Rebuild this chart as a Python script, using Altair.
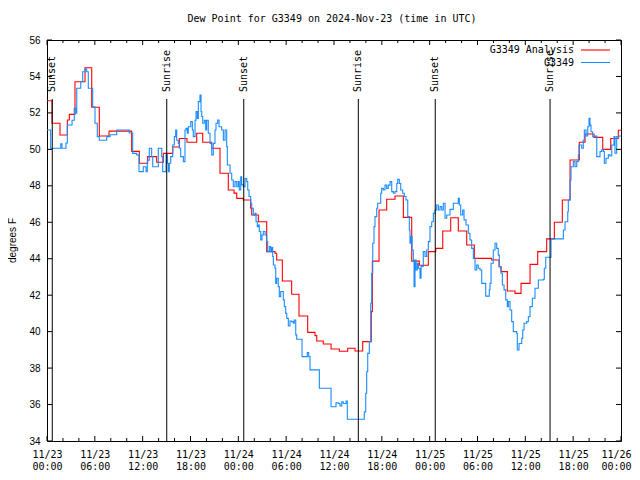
import altair as alt
import pandas as pd

# ---------------- data (hours since 2024-11-23 00:00 UTC, degrees F) -------------
blue_t = [0.00, 0.46, 1.72, 1.88, 2.38, 2.55, 3.14, 3.42, 3.64, 3.73, 4.23, 4.48, 4.77, 4.98,
          5.18, 5.73, 6.02, 6.31, 6.56, 7.49, 7.90, 8.74, 10.32, 10.75, 11.25, 11.54, 12.08,
          12.42, 12.58, 12.83, 13.13, 13.26, 13.96, 14.39, 14.51, 14.93, 15.09, 15.22, 15.34,
          15.52, 15.77, 15.97, 16.14, 16.27, 16.47, 16.60, 16.77, 17.10, 17.31, 17.44, 17.60,
          17.72, 18.03, 18.23, 18.35, 18.57, 18.69, 18.85, 18.98, 19.19, 19.32, 19.41, 19.53,
          19.73, 19.91, 20.03, 20.23, 20.45, 20.66, 20.86, 21.07, 21.20, 21.41, 21.58, 21.91,
          22.12, 22.33, 22.54, 22.62, 22.96, 23.17, 23.37, 23.58, 23.80, 24.00, 24.12, 24.30,
          24.42, 24.62, 24.84, 25.05, 25.18, 25.34, 25.55, 25.68, 25.88, 26.09, 26.22, 26.38,
          26.51, 26.63, 26.81, 26.97, 27.13, 27.35, 27.56, 27.68, 27.89, 28.06, 28.19, 28.31,
          28.39, 28.60, 28.69, 28.81, 29.01, 29.14, 29.32, 29.64, 29.77, 29.94, 30.07, 30.27,
          30.48, 30.69, 30.90, 31.02, 31.20, 31.32, 31.99, 32.65, 32.83, 32.99, 34.16, 35.63,
          36.25, 36.54, 36.75, 36.97, 37.17, 37.51, 37.67, 39.80, 39.98, 40.10, 40.23, 40.43,
          40.61, 40.73, 40.86, 41.02, 41.14, 41.36, 41.48, 41.86, 41.98, 42.19, 42.40, 42.61,
          42.81, 43.03, 43.24, 43.44, 43.65, 43.87, 43.99, 44.19, 44.37, 44.62, 44.82, 45.03,
          45.25, 45.45, 45.53, 45.66, 45.79, 45.95, 46.04, 46.16, 46.29, 46.45, 46.58, 46.79,
          46.92, 47.20, 47.42, 47.63, 47.83, 48.04, 48.26, 48.46, 48.67, 48.88, 49.09, 49.30,
          49.51, 49.71, 49.93, 50.14, 50.55, 50.97, 51.59, 51.72, 51.89, 52.14, 52.31, 52.56,
          52.85, 53.06, 53.27, 53.48, 53.69, 53.90, 54.10, 54.32, 54.53, 55.03, 55.48, 55.57,
          55.70, 55.98, 56.20, 56.41, 56.61, 56.74, 56.95, 57.12, 57.33, 57.54, 57.74, 57.87,
          58.08, 58.29, 58.49, 58.92, 58.99, 59.21, 59.55, 59.67, 59.84, 60.17, 60.38, 60.59,
          60.88, 61.21, 61.63, 62.26, 62.38, 62.56, 63.22, 64.77, 64.98, 65.32, 65.39, 65.61,
          65.73, 66.02, 66.23, 66.45, 66.65, 66.73, 67.07, 67.27, 67.40, 67.61, 67.83, 67.99,
          68.11, 68.24, 68.45, 68.74, 68.96, 69.37, 69.58, 69.78, 69.91, 70.12, 70.41, 70.62,
          70.84, 71.12, 71.25, 71.46, 71.75, 72.00]
blue_v = [51.06, 50.06, 50.30, 50.06, 50.35, 51.34, 51.60, 52.25, 51.98, 53.35, 53.71, 54.26, 54.40, 54.26,
          53.35, 52.34, 51.43, 50.70, 50.50, 50.70, 50.80, 51.06, 50.90, 49.78, 49.70, 48.78, 49.05,
          48.78, 49.40, 50.06, 49.60, 49.05, 50.06, 49.60, 48.78, 49.70, 49.24, 48.78, 49.24,
          49.60, 50.24, 50.70, 51.06, 50.50, 50.33, 50.06, 49.60, 49.33, 51.06, 51.15, 50.88,
          51.24, 51.52, 51.06, 50.70, 51.60, 52.07, 51.70, 52.62, 52.98, 52.07, 51.80, 51.43,
          51.60, 51.06, 51.60, 50.88, 50.33, 49.70, 50.33, 51.06, 51.43, 51.61, 51.24, 51.06,
          50.50, 51.06, 50.15, 49.14, 48.69, 48.32, 47.95, 48.23, 47.95, 48.23, 47.77, 48.50,
          48.05, 47.95, 48.40, 48.23, 47.77, 47.41, 47.04, 46.77, 46.40, 46.49, 46.03, 45.76,
          45.85, 45.49, 45.03, 45.30, 45.49, 45.30, 44.94, 44.39, 44.67, 44.39, 44.62, 44.12,
          43.66, 43.48, 42.65, 42.93, 42.47, 41.92, 42.20, 41.74, 41.37, 41.00, 40.73, 40.31,
          40.58, 40.55, 40.46, 40.64, 39.82, 39.58, 38.63, 38.85, 38.63, 37.90, 36.89, 35.88,
          36.10, 36.06, 35.92, 36.15, 36.06, 36.19, 35.19, 35.60, 36.62, 37.80, 38.81, 39.45,
          41.56, 43.20, 44.85, 45.76, 46.31, 46.77, 47.04, 47.59, 47.86, 47.77, 48.04, 47.86,
          48.04, 48.23, 47.68, 47.59, 47.68, 48.13, 48.36, 48.13, 47.77, 47.59, 47.41, 47.22,
          46.31, 45.58, 44.85, 45.21, 44.48, 43.93, 42.47, 43.93, 43.38, 43.75, 43.48, 42.93,
          43.57, 44.39, 44.12, 44.48, 44.94, 45.76, 46.03, 46.49, 46.67, 46.95, 46.67, 46.86,
          46.67, 47.04, 46.22, 46.40, 46.71, 47.04, 47.31, 46.95, 46.40, 46.67, 46.13, 45.85,
          45.40, 45.03, 44.57, 44.02, 43.38, 43.66, 43.48, 43.38, 42.65, 41.95, 42.30, 42.65,
          43.75, 44.48, 44.85, 44.57, 44.20, 43.56, 43.20, 42.56, 42.29, 41.74, 41.37, 41.65,
          41.19, 40.55, 40.00, 39.90, 38.99, 39.35, 39.63, 40.09, 40.46, 40.55, 40.82, 41.37,
          41.83, 42.38, 42.83, 42.87, 43.48, 44.08, 45.09, 45.58, 46.03, 46.58, 47.22, 48.32,
          49.05, 49.33, 49.05, 49.33, 49.70, 50.24, 50.06, 50.50, 51.06, 50.73, 51.24, 51.70,
          51.33, 50.97, 50.70, 50.73, 49.60, 49.88, 49.97, 49.88, 49.24, 49.51, 49.70, 49.64,
          50.24, 50.70, 49.79, 50.70, 50.73, 50.73]

red_t = [0.00, 0.63, 1.63, 2.55, 2.80, 3.51, 4.77, 5.61, 6.56, 7.78, 10.62, 11.58, 12.63, 13.76,
         14.59, 15.77, 16.60, 17.56, 18.78, 19.53, 20.66, 21.70, 22.74, 23.46, 23.80, 24.62,
         25.55, 25.68, 26.51, 27.56, 28.60, 28.81, 29.52, 30.69, 31.61, 32.70, 33.62, 33.83,
         34.66, 35.63, 36.67, 37.72, 38.64, 39.60, 40.68, 40.81, 41.65, 42.61, 43.65, 44.70,
         45.75, 46.70, 47.83, 48.76, 49.64, 50.64, 51.59, 52.65, 53.60, 55.78, 56.70, 56.95,
         57.74, 58.71, 59.46, 60.59, 61.55, 62.68, 63.64, 64.64, 65.61, 66.77, 67.49, 68.62,
         69.71, 70.71, 71.66, 72.00]
red_v = [52.67, 51.43, 50.79, 51.61, 51.92, 53.71, 54.48, 52.31, 50.73, 51.00, 49.89, 49.24, 49.60, 49.29,
         49.78, 50.13, 50.60, 50.39, 50.88, 50.39, 50.06, 48.69, 47.77, 47.60, 47.31, 47.22,
         46.77, 46.40, 46.03, 44.39, 44.30, 43.93, 42.78, 42.05, 40.86, 39.96, 39.78, 39.49,
         39.32, 39.05, 38.92, 39.09, 38.94, 39.45, 41.10, 43.87, 46.67, 47.26, 47.44, 46.27,
         43.87, 43.64, 44.39, 44.57, 45.52, 46.25, 45.52, 44.75, 44.02, 43.93, 43.56, 43.29,
         42.23, 42.10, 42.65, 43.69, 44.39, 45.09, 46.00, 47.22, 49.42, 50.39, 50.84, 50.66,
         50.00, 50.60, 51.05, 51.05]

event_t = [0.66, 15.02, 24.68, 39.05, 48.70, 63.10]
event_name = ["Sunset", "Sunrise", "Sunset", "Sunrise", "Sunset", "Sunrise"]

y_ticks = list(range(34, 57, 2))
x_major = list(range(0, 73, 6))
x_minor = [h for h in range(0, 73, 2) if h % 6]

legend_names = ["G3349 Analysis", "G3349"]
legend_colors = ["#ff0000", "#1a8cff"]
title_text = "Dew Point for G3349 on 2024-Nov-23 (time in UTC)"

# ---------------- styling ----------------
W, H = 574, 401
MONO = "DejaVu Sans Mono"
SANS = "Liberation Sans"

xs = alt.Scale(domain=[0, 72], nice=False, zero=False)
ys = alt.Scale(domain=[34, 56], nice=False, zero=False)

label_expr = ("['11/' + (23 + floor(datum.value / 24)), "
              "(datum.value % 24 < 10 ? '0' : '') + (datum.value % 24) + ':00']")

x_axis = alt.Axis(values=x_major, labelExpr=label_expr, labelFont=MONO, labelFontSize=10,
                  labelColor="black", tickSize=0, domain=False, grid=False, labelPadding=8,
                  labelLineHeight=12.5, labelBaseline="top", labelOverlap=False,
                  labelFlush=False, labelBound=False, title=None,
                  labelOffset=alt.ConditionalAxisNumber(
                      condition={"test": "datum.value == 72", "value": -5}, value=0))
y_axis = alt.Axis(values=y_ticks, labelFont=SANS, labelFontSize=10, labelColor="black",
                  tickSize=0, domain=False, grid=False, labelPadding=7, labelOverlap=False,
                  labelFlush=False, labelBound=False, title="degrees F", titleFont=SANS,
                  titleFontSize=10, titleFontWeight="normal", titleColor="black",
                  titleX=-35, titleY=200, titleAngle=270, titleAlign="center",
                  titleBaseline="middle")


def X(field="t"):
    return alt.X(f"{field}:Q", scale=xs, axis=x_axis)


def Y(field="v"):
    return alt.Y(f"{field}:Q", scale=ys, axis=y_axis)


red_df = pd.DataFrame({"t": red_t, "v": red_v})
blue_df = pd.DataFrame({"t": blue_t, "v": blue_v})

red_line = alt.Chart(red_df).mark_line(interpolate="step-after", color=legend_colors[0],
                                        strokeWidth=1.1).encode(x=X(), y=Y())
blue_line = alt.Chart(blue_df).mark_line(interpolate="step-after", color=legend_colors[1],
                                          strokeWidth=1.1).encode(x=X(), y=Y())

ev_df = pd.DataFrame({"t": event_t, "name": event_name})
ev_rules = alt.Chart(ev_df).mark_rule(color="black", strokeWidth=1).encode(
    x=X(), y=alt.value(59), y2=alt.value(H))
ev_text = alt.Chart(ev_df).mark_text(angle=270, align="left", baseline="middle", font=MONO,
                                     fontSize=10, color="black").encode(
    x=X(), y=alt.value(52), text="name:N")

# inward ticks (gnuplot style, mirrored)
xmaj_df = pd.DataFrame({"t": x_major})
xmin_df = pd.DataFrame({"t": x_minor})
yt_df = pd.DataFrame({"v": y_ticks})
tick_layers = []
for df, ln in ((xmaj_df, 5), (xmin_df, 3)):
    tick_layers.append(alt.Chart(df).mark_rule(color="black", strokeWidth=1).encode(
        x=X(), y=alt.value(H), y2=alt.value(H - ln)))
    tick_layers.append(alt.Chart(df).mark_rule(color="black", strokeWidth=1).encode(
        x=X(), y=alt.value(0), y2=alt.value(ln)))
tick_layers.append(alt.Chart(yt_df).mark_rule(color="black", strokeWidth=1).encode(
    y=Y(), x=alt.value(0), x2=alt.value(5)))
tick_layers.append(alt.Chart(yt_df).mark_rule(color="black", strokeWidth=1).encode(
    y=Y(), x=alt.value(W - 5), x2=alt.value(W)))

# legend (gnuplot style: text then sample line)
legend_layers = []
for i, (name, col) in enumerate(zip(legend_names, legend_colors)):
    ldf = pd.DataFrame({"name": [name]})
    yy = 10 + 12.5 * i
    legend_layers.append(alt.Chart(ldf).mark_text(align="right", baseline="middle", font=MONO,
                                                  fontSize=10, color="black").encode(
        x=alt.value(527), y=alt.value(yy), text="name:N"))
    legend_layers.append(alt.Chart(ldf).mark_rule(color=col, strokeWidth=1.1).encode(
        x=alt.value(534), x2=alt.value(563), y=alt.value(yy)))

title_layer = alt.Chart(pd.DataFrame({"title": [title_text]})).mark_text(
    align="center", baseline="middle", font=MONO, fontSize=10, color="black").encode(
    x=alt.value(W / 2 - 2), y=alt.value(-21), text="title:N")

chart = alt.layer(
    red_line, blue_line, ev_rules, ev_text, *tick_layers, *legend_layers, title_layer
).properties(
    width=W, height=H,
    padding={"left": 39, "top": 32, "right": 11, "bottom": 30},
    autosize=alt.AutoSizeParams(type="none"),
    background="white",
).configure_view(stroke="black", strokeWidth=1)

chart.save("out.html", embed_options={"renderer": "svg", "actions": False})
